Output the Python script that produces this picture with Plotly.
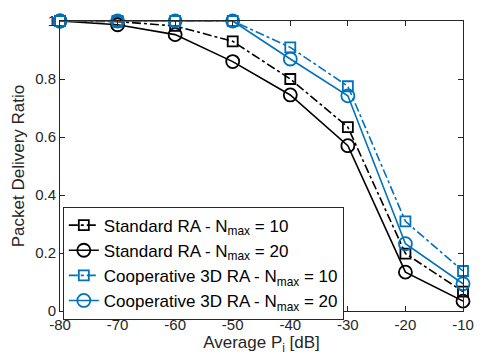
import plotly.graph_objects as go

x_db = [-80, -70, -60, -50, -40, -30, -20, -10]
x_ticktext = ["-80", "-70", "-60", "-50", "-40", "-30", "-20", "-10"]
y_tickvals = [0, 0.2, 0.4, 0.6, 0.8, 1]
y_ticktext = ["0", "0.2", "0.4", "0.6", "0.8", "1"]
std_10 = [1.0, 0.998, 0.983, 0.93, 0.80, 0.634, 0.198, 0.067]
std_20 = [1.0, 0.987, 0.953, 0.86, 0.745, 0.57, 0.134, 0.034]
coop_10 = [1.0, 1.0, 1.0, 1.0, 0.909, 0.775, 0.309, 0.138]
coop_20 = [1.0, 1.0, 1.0, 1.0, 0.869, 0.742, 0.232, 0.094]

names = [
    "Standard RA - N<sub>max</sub> = 10",
    "Standard RA - N<sub>max</sub> = 20",
    "Cooperative 3D RA - N<sub>max</sub> = 10",
    "Cooperative 3D RA - N<sub>max</sub> = 20",
]
black = "#000000"
blue = "#0072BD"
series = [
    (std_10, black, "dashdot", "square-open", 10),
    (std_20, black, "solid", "circle-open", 13),
    (coop_10, blue, "dashdot", "square-open", 10),
    (coop_20, blue, "solid", "circle-open", 13),
]

fig = go.Figure()
for name, (vals, col, dash, sym, sz) in zip(names, series):
    fig.add_trace(go.Scatter(
        x=x_db, y=vals, name=name, mode="lines+markers",
        line=dict(color=col, width=1.6, dash=dash),
        marker=dict(symbol=sym, size=sz, color=col, line=dict(width=1.8, color=col)),
        cliponaxis=False,
    ))

font_family = "Liberation Sans, Arial, Helvetica"
axis_common = dict(
    showline=True, linecolor="#262626", linewidth=1, mirror="ticks",
    ticks="inside", ticklen=5, tickcolor="#262626", showgrid=False, zeroline=False,
    tickfont=dict(family=font_family, size=15, color="#262626"),
)
fig.update_xaxes(range=[-80, -10], tickvals=x_db, ticktext=x_ticktext,
                 title=dict(text="Average P<sub>i</sub> [dB]", standoff=2,
                            font=dict(family=font_family, size=17, color="#262626")),
                 **axis_common)
fig.update_yaxes(range=[0, 1], tickvals=y_tickvals, ticktext=y_ticktext,
                 title=dict(text="Packet Delivery Ratio", standoff=6,
                            font=dict(family=font_family, size=17, color="#262626")),
                 **axis_common)
fig.update_layout(
    width=486, height=360,
    margin=dict(l=60, r=12, t=13, b=49),
    plot_bgcolor="white", paper_bgcolor="white",
    showlegend=True,
    legend=dict(x=0.007, y=0.36, xanchor="left", yanchor="top",
                bgcolor="white", bordercolor="#262626", borderwidth=1,
                font=dict(family=font_family, size=17, color="#000000"),
                tracegroupgap=0, itemwidth=30),
)
fig.write_html("out.html")
